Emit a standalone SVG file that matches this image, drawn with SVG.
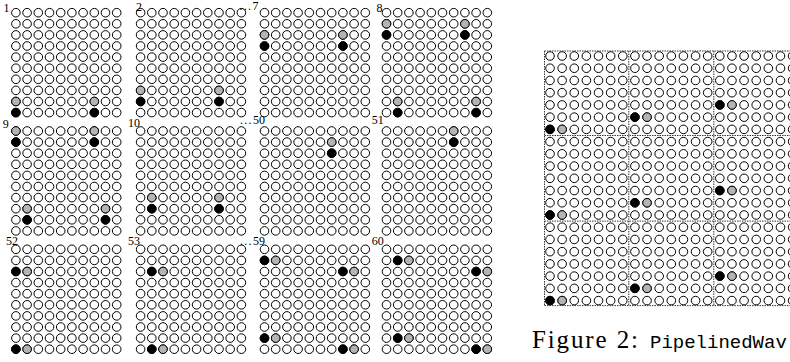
<svg xmlns="http://www.w3.org/2000/svg" width="790" height="362" viewBox="0 0 790 362">
<style>
.k{fill:#000;stroke:#000;stroke-width:1}
.g{fill:#b4b4b4;stroke:#000;stroke-width:1}
.lbl{font-family:'Liberation Serif','Times New Roman',serif;font-size:12px;fill:#000}
.cap{font-family:'Liberation Serif','Times New Roman',serif;font-size:25px;fill:#000}
.capt{font-family:'Liberation Mono','Courier New',monospace;font-size:19px;fill:#000}
.sep{stroke:#333;stroke-width:1;stroke-dasharray:1.5 1;fill:none}
</style>
<defs>
<circle id="c" r="4.3" fill="#fff" stroke="#000" stroke-width="1"/>
<g id="r10">
<use href="#c" x="0"/><use href="#c" x="11.2"/><use href="#c" x="22.4"/><use href="#c" x="33.6"/><use href="#c" x="44.8"/><use href="#c" x="56"/><use href="#c" x="67.2"/><use href="#c" x="78.4"/><use href="#c" x="89.6"/><use href="#c" x="100.8"/>
</g>
<g id="g10">
<use href="#r10" y="0"/><use href="#r10" y="11.1"/><use href="#r10" y="22.2"/><use href="#r10" y="33.3"/><use href="#r10" y="44.4"/><use href="#r10" y="55.5"/><use href="#r10" y="66.6"/><use href="#r10" y="77.7"/><use href="#r10" y="88.8"/><use href="#r10" y="99.9"/>
</g>
<g id="r21">
<use href="#c" x="0"/><use href="#c" x="12.13"/><use href="#c" x="24.26"/><use href="#c" x="36.39"/><use href="#c" x="48.52"/><use href="#c" x="60.65"/><use href="#c" x="72.78"/><use href="#c" x="84.91"/><use href="#c" x="97.04"/><use href="#c" x="109.17"/><use href="#c" x="121.3"/><use href="#c" x="133.43"/><use href="#c" x="145.56"/><use href="#c" x="157.69"/><use href="#c" x="169.82"/><use href="#c" x="181.95"/><use href="#c" x="194.08"/><use href="#c" x="206.21"/><use href="#c" x="218.34"/><use href="#c" x="230.47"/><use href="#c" x="242.6"/>
</g>
</defs>
<rect width="790" height="362" fill="#fff"/>

<g id="grid-1">
<use href="#g10" x="15.9" y="12.7"/>
<circle class="g" cx="15.9" cy="101.5" r="4.3"/><circle class="g" cx="94.3" cy="101.5" r="4.3"/>
<circle class="k" cx="15.9" cy="112.6" r="4.3"/><circle class="k" cx="94.3" cy="112.6" r="4.3"/>
<text class="lbl" x="3.5" y="12">1</text>
</g>
<g id="grid-2">
<use href="#g10" x="140.6" y="12.7"/>
<circle class="g" cx="140.6" cy="90.4" r="4.3"/><circle class="g" cx="219" cy="90.4" r="4.3"/>
<circle class="k" cx="140.6" cy="101.5" r="4.3"/><circle class="k" cx="219" cy="101.5" r="4.3"/>
<text class="lbl" x="136" y="11">2</text>
</g>
<g id="grid-7">
<use href="#g10" x="264.5" y="12.7"/>
<circle class="g" cx="264.5" cy="34.9" r="4.3"/><circle class="g" cx="342.9" cy="34.9" r="4.3"/>
<circle class="k" cx="264.5" cy="46" r="4.3"/><circle class="k" cx="342.9" cy="46" r="4.3"/>
<text class="lbl" x="239.5" y="10"><tspan letter-spacing="1.3">...</tspan>7</text>
</g>
<g id="grid-8">
<use href="#g10" x="386.5" y="12.7"/>
<circle class="g" cx="386.5" cy="23.8" r="4.3"/><circle class="g" cx="464.9" cy="23.8" r="4.3"/>
<circle class="k" cx="386.5" cy="34.9" r="4.3"/><circle class="k" cx="464.9" cy="34.9" r="4.3"/>
<circle class="g" cx="397.7" cy="101.5" r="4.3"/><circle class="g" cx="476.1" cy="101.5" r="4.3"/>
<circle class="k" cx="397.7" cy="112.6" r="4.3"/><circle class="k" cx="476.1" cy="112.6" r="4.3"/>
<text class="lbl" x="376.5" y="11.5">8</text>
</g>

<g id="grid-9">
<use href="#g10" x="15.9" y="131"/>
<circle class="g" cx="15.9" cy="131" r="4.3"/><circle class="g" cx="94.3" cy="131" r="4.3"/>
<circle class="k" cx="15.9" cy="142.1" r="4.3"/><circle class="k" cx="94.3" cy="142.1" r="4.3"/>
<circle class="g" cx="27.1" cy="208.7" r="4.3"/><circle class="g" cx="105.5" cy="208.7" r="4.3"/>
<circle class="k" cx="27.1" cy="219.8" r="4.3"/><circle class="k" cx="105.5" cy="219.8" r="4.3"/>
<text class="lbl" x="2.7" y="127.5">9</text>
</g>
<g id="grid-10">
<use href="#g10" x="140.6" y="131"/>
<circle class="g" cx="151.8" cy="197.6" r="4.3"/><circle class="g" cx="219" cy="197.6" r="4.3"/>
<circle class="k" cx="151.8" cy="208.7" r="4.3"/><circle class="k" cx="219" cy="208.7" r="4.3"/>
<text class="lbl" x="128" y="127">10</text>
</g>
<g id="grid-50">
<use href="#g10" x="264.5" y="131"/>
<circle class="g" cx="331.7" cy="142.1" r="4.3"/>
<circle class="k" cx="331.7" cy="153.2" r="4.3"/>
<text class="lbl" x="240" y="123.5"><tspan letter-spacing="1.3">...</tspan>50</text>
</g>
<g id="grid-51">
<use href="#g10" x="386.5" y="131"/>
<circle class="g" cx="453.7" cy="131" r="4.3"/>
<circle class="k" cx="453.7" cy="142.1" r="4.3"/>
<text class="lbl" x="371.7" y="123.5">51</text>
</g>

<g id="grid-52">
<use href="#g10" x="15.9" y="249.3"/>
<circle class="k" cx="15.9" cy="271.5" r="4.3"/><circle class="g" cx="27.1" cy="271.5" r="4.3"/>
<circle class="k" cx="15.9" cy="349.2" r="4.3"/><circle class="g" cx="27.1" cy="349.2" r="4.3"/>
<text class="lbl" x="6" y="245">52</text>
</g>
<g id="grid-53">
<use href="#g10" x="140.6" y="249.3"/>
<circle class="k" cx="151.8" cy="271.5" r="4.3"/><circle class="g" cx="163" cy="271.5" r="4.3"/>
<circle class="k" cx="151.8" cy="349.2" r="4.3"/><circle class="g" cx="163" cy="349.2" r="4.3"/>
<text class="lbl" x="128" y="245">53</text>
</g>
<g id="grid-59">
<use href="#g10" x="264.5" y="249.3"/>
<circle class="k" cx="264.5" cy="260.4" r="4.3"/><circle class="g" cx="275.7" cy="260.4" r="4.3"/>
<circle class="k" cx="342.9" cy="271.5" r="4.3"/><circle class="g" cx="354.1" cy="271.5" r="4.3"/>
<circle class="k" cx="264.5" cy="338.1" r="4.3"/><circle class="g" cx="275.7" cy="338.1" r="4.3"/>
<circle class="k" cx="342.9" cy="349.2" r="4.3"/><circle class="g" cx="354.1" cy="349.2" r="4.3"/>
<text class="lbl" x="240" y="244.5"><tspan letter-spacing="1.3">...</tspan>59</text>
</g>
<g id="grid-60">
<use href="#g10" x="386.5" y="249.3"/>
<circle class="k" cx="397.7" cy="260.4" r="4.3"/><circle class="g" cx="408.9" cy="260.4" r="4.3"/>
<circle class="k" cx="476.1" cy="271.5" r="4.3"/><circle class="g" cx="487.3" cy="271.5" r="4.3"/>
<circle class="k" cx="397.7" cy="338.1" r="4.3"/><circle class="g" cx="408.9" cy="338.1" r="4.3"/>
<circle class="k" cx="476.1" cy="349.2" r="4.3"/><circle class="g" cx="487.3" cy="349.2" r="4.3"/>
<text class="lbl" x="371.7" y="245">60</text>
</g>

<g id="figure-2-grid">
<use href="#r21" x="550" y="56"/><use href="#r21" x="550" y="68.23"/><use href="#r21" x="550" y="80.46"/><use href="#r21" x="550" y="92.69"/><use href="#r21" x="550" y="104.92"/><use href="#r21" x="550" y="117.15"/><use href="#r21" x="550" y="129.38"/>
<use href="#r21" x="550" y="141.61"/><use href="#r21" x="550" y="153.84"/><use href="#r21" x="550" y="166.07"/><use href="#r21" x="550" y="178.3"/><use href="#r21" x="550" y="190.53"/><use href="#r21" x="550" y="202.76"/><use href="#r21" x="550" y="214.99"/>
<use href="#r21" x="550" y="227.22"/><use href="#r21" x="550" y="239.45"/><use href="#r21" x="550" y="251.68"/><use href="#r21" x="550" y="263.91"/><use href="#r21" x="550" y="276.14"/><use href="#r21" x="550" y="288.37"/><use href="#r21" x="550" y="300.6"/>
<circle class="k" cx="550" cy="129.38" r="4.3"/><circle class="g" cx="562.13" cy="129.38" r="4.3"/>
<circle class="k" cx="634.91" cy="117.15" r="4.3"/><circle class="g" cx="647.04" cy="117.15" r="4.3"/>
<circle class="k" cx="719.82" cy="104.92" r="4.3"/><circle class="g" cx="731.95" cy="104.92" r="4.3"/>
<circle class="k" cx="550" cy="214.99" r="4.3"/><circle class="g" cx="562.13" cy="214.99" r="4.3"/>
<circle class="k" cx="634.91" cy="202.76" r="4.3"/><circle class="g" cx="647.04" cy="202.76" r="4.3"/>
<circle class="k" cx="719.82" cy="190.53" r="4.3"/><circle class="g" cx="731.95" cy="190.53" r="4.3"/>
<circle class="k" cx="550" cy="300.6" r="4.3"/><circle class="g" cx="562.13" cy="300.6" r="4.3"/>
<circle class="k" cx="634.91" cy="288.37" r="4.3"/><circle class="g" cx="647.04" cy="288.37" r="4.3"/>
<circle class="k" cx="719.82" cy="276.14" r="4.3"/><circle class="g" cx="731.95" cy="276.14" r="4.3"/>
<path class="sep" d="M544.5 51H790M544.5 305.6H790M544.5 135.5H790M544.5 221.1H790M544.5 51V305.6M628.8 51V305.6M713.8 51V305.6"/>
</g>

<g id="caption">
<text class="cap" x="532" y="348.3" textLength="106" lengthAdjust="spacing">Figure 2:</text>
<text class="capt" x="650" y="348.3">PipelinedWav</text>
</g>
</svg>
